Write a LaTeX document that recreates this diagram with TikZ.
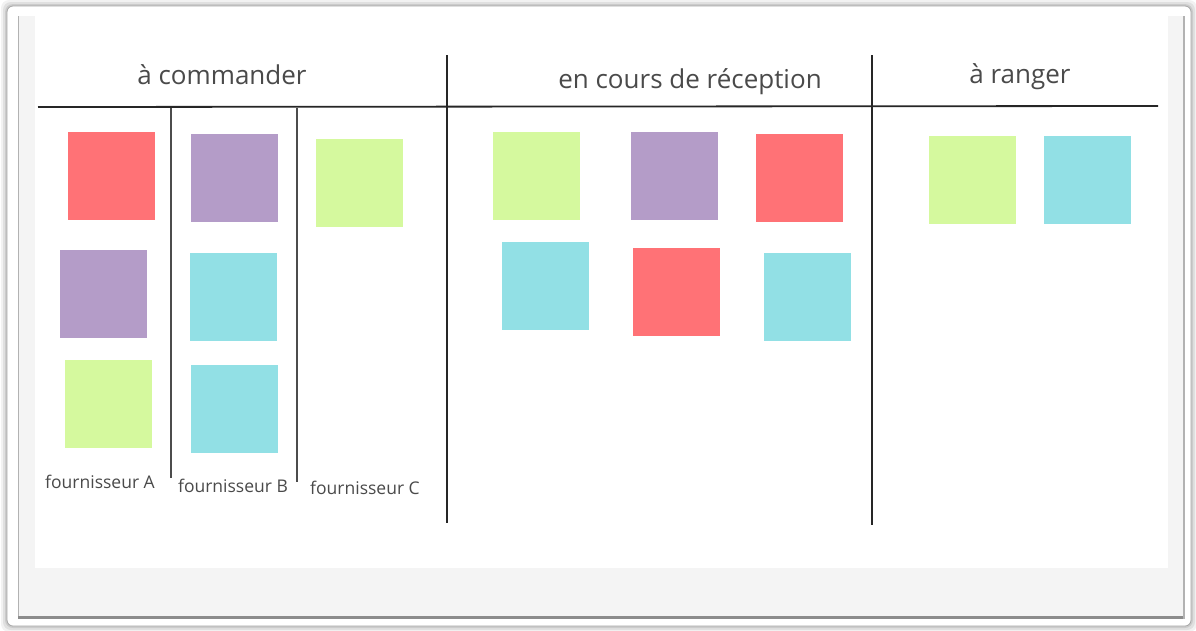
\documentclass[tikz,border=0pt]{standalone}
\usepackage{fontspec}
\setmainfont{Open Sans}
\begin{document}
\begin{tikzpicture}[x=1pt,y=-1pt,
  note/.style={rectangle,minimum width=87pt,minimum height=88pt,inner sep=0pt},
  redn/.style={note,fill=nred},
  purn/.style={note,fill=npur},
  grnn/.style={note,fill=ngrn},
  cyan n/.style={note,fill=ncya},
  head/.style={text=txt,font=\fontsize{26}{28}\selectfont,inner sep=0pt},
  lab/.style={text=txt,font=\fontsize{17.5}{19}\selectfont,inner sep=0pt},
  mainline/.style={draw=black!85,line width=1.8pt},
  subline/.style={draw=black!70,line width=1.3pt}]
\definecolor{nred}{HTML}{FF7276}
\definecolor{npur}{HTML}{B49CC8}
\definecolor{ngrn}{HTML}{D5F99E}
\definecolor{ncya}{HTML}{92E0E5}
\definecolor{txt}{HTML}{4A4A4A}
\definecolor{panel}{HTML}{F4F4F4}
\useasboundingbox (0,0) rectangle (1196,630);
\fill[white] (0,0) rectangle (1196,630);
% soft shadow of the card
\foreach \d/\o in {6/0.05,4/0.07,2/0.09}{
  \fill[black,opacity=\o,rounded corners=8pt] (7-\d,6-\d) rectangle (1191+\d,626+\d);}
% card
\filldraw[fill=white,draw=black!35,line width=0.8pt,rounded corners=6pt] (7,6) rectangle (1191,626);
% inner panel
\fill[panel] (18,16) rectangle (1185,619);
\draw[black!30,line width=1.2pt] (18.5,16) -- (18.5,619);
\draw[black!45,line width=2.5pt] (18,617.5) -- (1185,617.5);
\draw[black!30,line width=1.5pt] (1184,16) -- (1184,619);
% board
\fill[white] (35,16) rectangle (1168,568);
% lines
\coordinate (h1) at (38,107);
\coordinate (h2) at (1158,106);
\draw[mainline] (h1) -- (h2);
\coordinate (v1t) at (447,55); \coordinate (v1b) at (447,523);
\coordinate (v2t) at (872,55); \coordinate (v2b) at (872,525);
\draw[mainline] (v1t) -- (v1b);
\draw[mainline] (v2t) -- (v2b);
\coordinate (s1t) at (171,108); \coordinate (s1b) at (171,478);
\coordinate (s2t) at (297,108); \coordinate (s2b) at (297,482);
\draw[subline] (s1t) -- (s1b);
\draw[subline] (s2t) -- (s2b);
% headings
\node[head] (hcmd) at (222,75) {à commander};
\node[head] (hrec) at (690,82) {en cours de réception};
\node[head] (hrng) at (1020,77) {à ranger};
% labels
\node[lab] (fa) at (100,482) {fournisseur A};
\node[lab] (fb) at (233,486) {fournisseur B};
\node[lab] (fc) at (365,488) {fournisseur C};
% notes: à commander
\node[redn] (a1) at (111.5,175.5) {};
\node[purn] (a2) at (103.5,294) {};
\node[grnn] (a3) at (108.5,404) {};
\node[purn] (b1) at (234.5,178) {};
\node[cyan n] (b2) at (233,297) {};
\node[cyan n] (b3) at (234.5,409) {};
\node[grnn] (c1) at (359.5,182.5) {};
% notes: en cours de réception
\node[grnn] (r1) at (536.5,176) {};
\node[purn] (r2) at (674.5,176) {};
\node[redn] (r3) at (799.5,178) {};
\node[cyan n] (r4) at (545.5,285.5) {};
\node[redn] (r5) at (676.5,291.5) {};
\node[cyan n] (r6) at (807.5,297) {};
% notes: à ranger
\node[grnn] (g1) at (972.5,180) {};
\node[cyan n] (g2) at (1087.5,180) {};
\end{tikzpicture}
\end{document}
